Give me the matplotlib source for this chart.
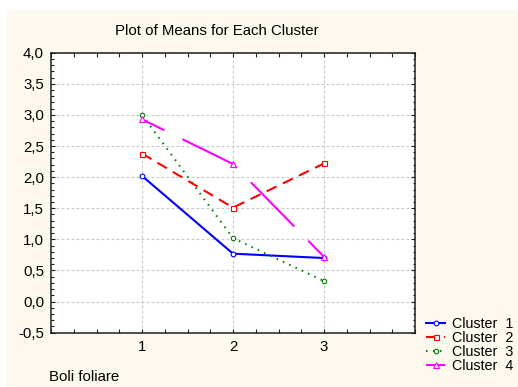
import matplotlib
matplotlib.use("Agg")
import matplotlib.pyplot as plt
from matplotlib.patches import Rectangle
from matplotlib.ticker import MultipleLocator, FixedLocator, FuncFormatter

plt.rcParams['font.family'] = ['Liberation Sans', 'DejaVu Sans']
plt.rcParams['lines.scale_dashes'] = False

# Cluster means per variable position
positions = [1, 2, 3]
cluster_1 = [2.02, 0.77, 0.70]
cluster_2 = [2.38, 1.51, 2.22]
cluster_3 = [3.00, 1.02, 0.33]
cluster_4 = [2.93, 2.21, 0.72]
labels = ["Cluster  1", "Cluster  2", "Cluster  3", "Cluster  4"]
x_ticks = [1, 2, 3]
title = "Plot of Means for Each Cluster"
x_name = "Boli foliare"

W, H = 518, 387
fig = plt.figure(figsize=(W / 100, H / 100), dpi=100, facecolor="white")
fig.patches.append(Rectangle((7 / W, 0.0), 1 - 7 / W, 1 - 10 / H,
                             transform=fig.transFigure, facecolor="#FEF9EE",
                             edgecolor="none", zorder=-10))

ax = fig.add_axes([51 / W, 1 - 332.7 / H, (415 - 51) / W, (332.7 - 52.7) / H])
ax.set_facecolor("white")
ax.set_zorder(1)

styles = [
    dict(color="#0000FF", linestyle="-", marker="o", ms=3.4),
    dict(color="#FF0000", linestyle=(0, (7.9, 5.0)), marker="s", ms=3.6),
    dict(color="#008000", linestyle=(0, (1.1, 3.9)), marker="o", ms=3.2),
    dict(color="#FF00FF", linestyle=(26.6, (44.6, 14.4)), marker="^", ms=4.0),
]
series = [cluster_1, cluster_2, cluster_3, cluster_4]
for vals, lab, st in zip(series, labels, styles):
    ax.plot(positions, vals, color=st["color"], linestyle=st["linestyle"],
            lw=1.5, marker=st["marker"], ms=st["ms"], mfc="white",
            mec=st["color"], mew=0.8, label=lab, zorder=3)

ax.set_xlim(0, 4)
ax.set_ylim(-0.5, 4.0)
ax.xaxis.set_major_locator(FixedLocator(x_ticks))
ax.xaxis.set_minor_locator(MultipleLocator(0.25))
ax.yaxis.set_major_locator(MultipleLocator(0.5))
ax.yaxis.set_minor_locator(MultipleLocator(0.1))
ax.yaxis.set_major_formatter(FuncFormatter(lambda v, p: f"{v:.1f}".replace(".", ",")))
ax.xaxis.set_major_formatter(FuncFormatter(lambda v, p: f"{int(round(v))}"))

ax.tick_params(which="both", direction="in", top=True, right=True,
               colors="#202020", labelcolor="black", width=0.8)
ax.tick_params(which="major", length=2.6, labelsize=10.8, pad=5)
ax.tick_params(which="minor", length=1.8)
ax.tick_params(axis="x", which="minor", length=2.6)

for s in ax.spines.values():
    s.set_color("#202020")
    s.set_linewidth(1.1)

ax.grid(True, which="major", color="#C8C8C8", linestyle=(0, (2.0, 1.6)), lw=0.8)
ax.set_axisbelow(True)

fig.text(217 / W, 1 - 31 / H, title, ha="center", va="center", fontsize=10.8)
fig.text(49 / W, 1 - 377 / H, x_name, ha="left", va="center", fontsize=10.8)

fig.legend(loc="center left", bbox_to_anchor=(426 / W, 1 - 345.5 / H),
           frameon=False, fontsize=10.3, handlelength=1.35, handletextpad=0.5,
           labelspacing=0.0, borderpad=0, borderaxespad=0, numpoints=1)

fig.savefig("out.png", dpi=100, facecolor=fig.get_facecolor())
